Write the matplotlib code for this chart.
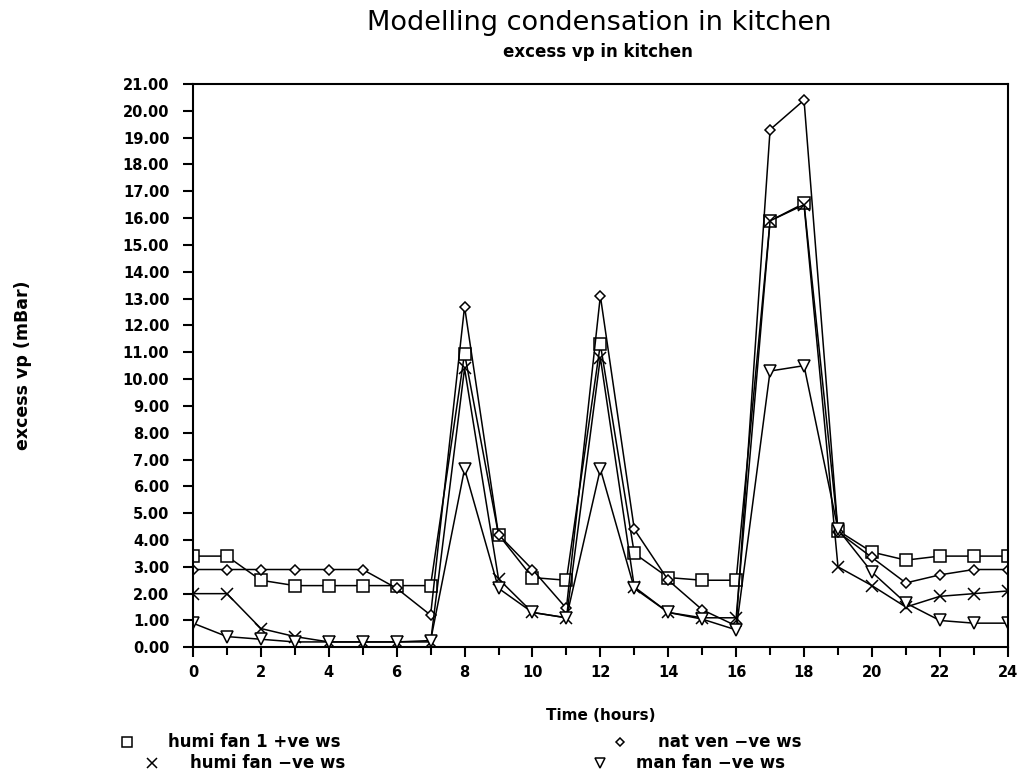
import matplotlib
matplotlib.use('Agg')
import matplotlib.pyplot as plt
from matplotlib.lines import Line2D

# Hours 0..24
hours = list(range(25))

# Series values (mBar)
humi_fan1_pos = [3.4, 3.4, 2.5, 2.3, 2.3, 2.3, 2.3, 2.3, 10.95, 4.2, 2.6, 2.5, 11.3,
                 3.5, 2.6, 2.5, 2.5, 15.9, 16.55, 4.35, 3.55, 3.25, 3.4, 3.4, 3.4]
nat_ven_neg = [2.9, 2.9, 2.9, 2.9, 2.9, 2.9, 2.2, 1.2, 12.7, 4.2, 2.9, 1.45, 13.1,
               4.4, 2.5, 1.4, 0.8, 19.3, 20.4, 4.3, 3.35, 2.4, 2.7, 2.9, 2.9]
humi_fan_neg = [2.0, 2.0, 0.7, 0.4, 0.2, 0.2, 0.2, 0.2, 10.4, 2.55, 1.3, 1.1, 10.8,
                2.25, 1.3, 1.1, 1.1, 15.9, 16.5, 3.0, 2.3, 1.5, 1.9, 2.0, 2.1]
man_fan_neg = [0.9, 0.4, 0.3, 0.2, 0.2, 0.2, 0.2, 0.25, 6.65, 2.2, 1.3, 1.1, 6.65,
               2.2, 1.3, 1.05, 0.65, 10.3, 10.5, 4.4, 2.8, 1.65, 1.0, 0.9, 0.9]

series = [
    ('humi fan 1 +ve ws', humi_fan1_pos, 's'),
    ('nat ven \u2212ve ws', nat_ven_neg, 'D'),
    ('humi fan \u2212ve ws', humi_fan_neg, 'x'),
    ('man fan \u2212ve ws', man_fan_neg, 'v'),
]

yticks = [i for i in range(22)]
xticks = list(range(0, 25, 2))

marker_size = {'s': 8.5, 'D': 5.5, 'x': 8.5, 'v': 8}

fig = plt.figure(figsize=(10.21, 7.78), dpi=100)
ax = fig.add_axes([0.189, 0.168, 0.798, 0.724])

for name, vals, mk in series:
    ax.plot(hours, vals, color='black', linewidth=1.1, marker=mk,
            markersize=marker_size[mk], markerfacecolor='white',
            markeredgecolor='black', markeredgewidth=1.1)

ax.set_xlim(0, 24)
ax.set_ylim(0, 21)
ax.set_xticks(xticks)
ax.set_xticks(range(1, 24, 2), minor=True)
ax.set_yticks(yticks)
ax.set_yticklabels([f'{v:.2f}' for v in yticks])
ax.tick_params(axis='both', which='both', direction='out', width=1.5, color='black')
ax.tick_params(axis='y', length=7, pad=10, labelsize=10.5)
ax.tick_params(axis='x', which='major', length=7, pad=6, labelsize=10.5)
ax.tick_params(axis='x', which='minor', length=6)
for lbl in ax.get_xticklabels() + ax.get_yticklabels():
    lbl.set_fontweight('bold')
for sp in ax.spines.values():
    sp.set_linewidth(1.5)

ax.set_xlabel('Time (hours)', fontsize=11, fontweight='bold', labelpad=20)
ax.set_ylabel('excess vp (mBar)', fontsize=12.5, fontweight='bold')
ax.yaxis.set_label_coords((32 - 193) / 815, 0.5)

fig.text(0.587, 0.971, 'Modelling condensation in kitchen', fontsize=19.5,
         ha='center', va='center', color='black')
fig.text(0.586, 0.933, 'excess vp in kitchen', fontsize=12, fontweight='bold',
         ha='center', va='center')

# legend placed like the original
legend_items = [
    (127, 742, 168, 's', 'humi fan 1 +ve ws'),
    (152, 763, 190, 'x', 'humi fan \u2212ve ws'),
    (620, 742, 658, 'D', 'nat ven \u2212ve ws'),
    (600, 763, 636, 'v', 'man fan \u2212ve ws'),
]
W, H = 1021, 778
for mx, my, tx, mk, txt in legend_items:
    fig.add_artist(Line2D([mx / W], [1 - my / H], marker=mk, color='black',
                          markerfacecolor='white', markersize=marker_size[mk] - 1,
                          markeredgewidth=1.1, linestyle='none',
                          transform=fig.transFigure))
    fig.text(tx / W, 1 - my / H, txt, fontsize=12, fontweight='bold',
             ha='left', va='center')

fig.savefig('out.png', dpi=100)
